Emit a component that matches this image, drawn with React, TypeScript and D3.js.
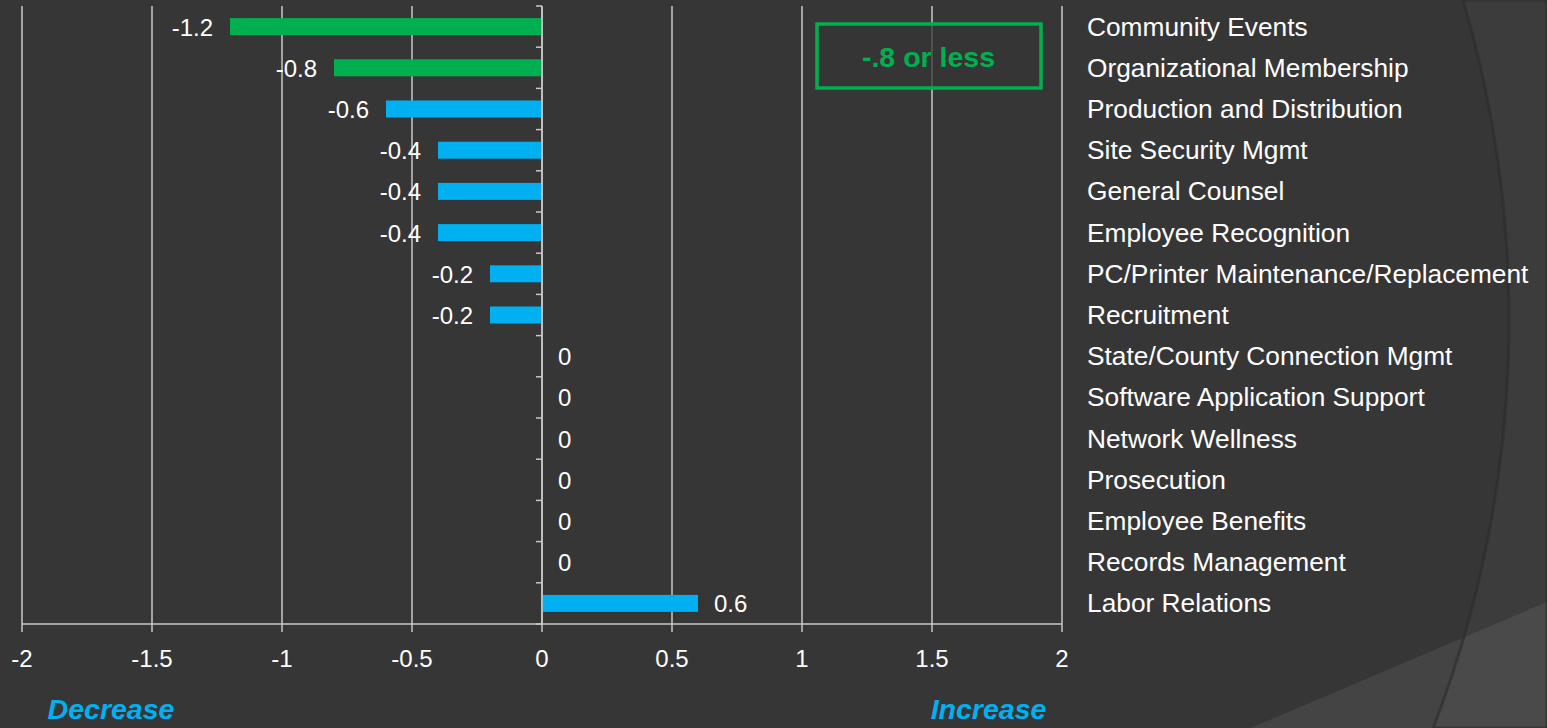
import React from "react";
import * as d3 from "d3";

const categories = [
  "Community Events",
  "Organizational Membership",
  "Production and Distribution",
  "Site Security Mgmt",
  "General Counsel",
  "Employee Recognition",
  "PC/Printer Maintenance/Replacement",
  "Recruitment",
  "State/County Connection Mgmt",
  "Software Application Support",
  "Network Wellness",
  "Prosecution",
  "Employee Benefits",
  "Records Management",
  "Labor Relations",
];
const values = [-1.2, -0.8, -0.6, -0.4, -0.4, -0.4, -0.2, -0.2, 0, 0, 0, 0, 0, 0, 0.6];
const xTicks = [-2, -1.5, -1, -0.5, 0, 0.5, 1, 1.5, 2];
const threshold = -0.8;
const thresholdLabel = "-.8 or less";
const leftNote = "Decrease";
const rightNote = "Increase";

const W = 1547;
const H = 728;
const FONT = "Arial, 'Liberation Sans', sans-serif";

export default function App() {
  const x = d3.scaleLinear().domain([-2, 2]).range([22, 1062]);
  const y = d3.scaleBand<number>().domain(d3.range(categories.length)).range([6, 624]).paddingInner(0).paddingOuter(0);
  const bw = y.bandwidth();
  const barH = 17;
  const green = "#00B050";
  const blue = "#00B0F0";
  const grid = "#c8c8c8";
  const fmt = (v: number) => (v === 0 ? "0" : String(v));

  // background arc (big circle)
  const R = 1136;
  const cx = 1509 - R;
  const cy = 320;
  const arcPath = d3.path();
  arcPath.moveTo(W, 0);
  arcPath.lineTo(cx + Math.sqrt(R * R - cy * cy), 0);
  arcPath.arc(cx, cy, R, -Math.asin(cy / R), Math.asin((H - cy) / R), false);
  arcPath.lineTo(W, H);
  arcPath.closePath();

  const slope = -0.425;
  const yAt = (px: number) => 673 + slope * (px - 1380);
  const diag = `M ${1200} ${yAt(1200)} L ${W} ${yAt(W)} L ${W} ${H} L 1200 ${H} Z`;

  return (
    <svg width={W} height={H} style={{ display: "block", position: "absolute", left: 0, top: 0 }}>
      <defs>
        <clipPath id="arcClip">
          <path d={arcPath.toString()} />
        </clipPath>
      </defs>
      <rect x={0} y={0} width={W} height={H} fill="#363636" />
      <path d={arcPath.toString()} fill="#3c3c3c" />
      <path d={diag} fill="#444444" />
      <path d={diag} fill="#4a4a4a" clipPath="url(#arcClip)" />
      <path d={arcPath.toString()} fill="none" stroke="#2c2c2c" strokeWidth={3} opacity={0.6} />

      {/* gridlines */}
      {xTicks.map((t) => (
        <line key={"g" + t} x1={x(t)} x2={x(t)} y1={6} y2={624} stroke={grid} strokeWidth={1.5} />
      ))}
      {/* x axis */}
      <line x1={x(-2)} x2={x(2)} y1={624} y2={624} stroke={grid} strokeWidth={1.5} />
      {xTicks.map((t) => (
        <line key={"t" + t} x1={x(t)} x2={x(t)} y1={624} y2={632} stroke={grid} strokeWidth={1.5} />
      ))}
      {xTicks.map((t) => (
        <text key={"l" + t} x={x(t)} y={667} fill="#ffffff" fontSize={24} fontFamily={FONT} textAnchor="middle">
          {fmt(t)}
        </text>
      ))}
      {/* category axis ticks */}
      {d3.range(categories.length + 1).map((i) => (
        <line key={"ct" + i} x1={x(0) - 6} x2={x(0)} y1={6 + i * bw} y2={6 + i * bw} stroke={grid} strokeWidth={1.5} />
      ))}

      {/* bars */}
      {values.map((v, i) => {
        const cyb = (y(i) as number) + bw / 2;
        const x0 = x(Math.min(0, v));
        const x1 = x(Math.max(0, v));
        return (
          <rect key={"b" + i} x={x0} y={cyb - barH / 2} width={x1 - x0} height={barH} fill={v <= threshold ? green : blue} />
        );
      })}
      <line x1={x(0)} x2={x(0)} y1={6} y2={624} stroke={grid} strokeWidth={1.5} />

      {/* value labels */}
      {values.map((v, i) => {
        const cyb = (y(i) as number) + bw / 2;
        const neg = v < 0;
        return (
          <text
            key={"v" + i}
            x={neg ? x(v) - 17 : x(v) + 16}
            y={cyb + 9}
            fill="#ffffff"
            fontSize={24}
            fontFamily={FONT}
            textAnchor={neg ? "end" : "start"}
          >
            {fmt(v)}
          </text>
        );
      })}

      {/* category labels */}
      {categories.map((c, i) => (
        <text key={"c" + i} x={1087} y={(y(i) as number) + bw / 2 + 9} fill="#ffffff" fontSize={26.3} fontFamily={FONT}>
          {c}
        </text>
      ))}

      {/* threshold box */}
      <rect x={817} y={24} width={224} height={64} fill="#363636" fillOpacity={0.75} stroke={green} strokeWidth={3.5} />
      <text x={928.5} y={67} fill={green} fontSize={28.5} fontWeight="bold" fontFamily={FONT} textAnchor="middle">
        {thresholdLabel}
      </text>

      <text x={111} y={719} fill={blue} fontSize={28.5} fontWeight="bold" fontStyle="italic" fontFamily={FONT} textAnchor="middle">
        {leftNote}
      </text>
      <text x={988.5} y={719} fill={blue} fontSize={28.5} fontWeight="bold" fontStyle="italic" fontFamily={FONT} textAnchor="middle">
        {rightNote}
      </text>
    </svg>
  );
}
